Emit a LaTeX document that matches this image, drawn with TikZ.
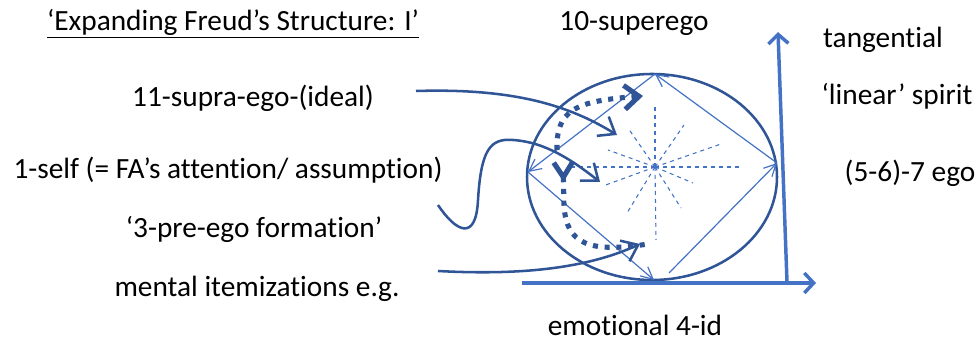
\documentclass[tikz,border=0pt]{standalone}
\usepackage{fontspec}
\setmainfont{Carlito}[Ligatures=NoCommon]
\usetikzlibrary{arrows.meta}
\definecolor{darkblue}{HTML}{2F5597}
\definecolor{midblue}{HTML}{4472C4}

\begin{document}
\begin{tikzpicture}[x=0.75pt,y=-0.75pt,font=\fontsize{22}{26}\selectfont,lbl/.style={inner sep=0pt},curve/.style={draw=darkblue,line width=1.9pt,-{Straight Barb[length=11pt,width=17pt,line width=1.9pt]}},edge/.style={draw=midblue,line width=0.9pt,-{Straight Barb[length=9pt,width=9pt,line width=0.9pt]}},ray/.style={draw=midblue,line width=0.8pt,dash pattern=on 3pt off 3pt},axis/.style={draw=midblue,line width=2.6pt,-{Straight Barb[length=7pt,width=15pt,line width=2.6pt]}},dots/.style={draw=darkblue,line width=3.8pt,dash pattern=on 3.8pt off 5pt}]
\useasboundingbox (0,0) rectangle (978,341);
% labels
\node[lbl] (title) at (233,24) {\underline{‘Expanding Freud’s Structure: I’}};
\node[lbl] (super) at (634,24) {10-superego};
\node[lbl] (supra) at (253,98) {11-supra-ego-(ideal)};
\node[lbl] (self) at (228,170) {1-self (= FA’s attention/ assumption)};
\node[lbl] (preego) at (254,229) {‘3-pre-ego formation’};
\node[lbl] (mental) at (257,289) {mental itemizations e.g.};
\node[lbl] (tang) at (883,40) {tangential};
\node[lbl] (linear) at (897,96) {‘linear’ spirit};
\node[lbl] (ego) at (910,173) {(5-6)-7 ego};
\node[lbl] (id) at (635,325) {emotional 4-id};
% circle, diamond and rays
\draw[darkblue,line width=1.9pt] (652,177) ellipse [x radius=125,y radius=103];
\coordinate (top) at (655,74);\coordinate (right) at (777,163);\coordinate (bottom) at (654,280);\coordinate (left) at (528,172);\coordinate (bstart) at (669,273);
\draw[edge] (right) -- (top);\draw[edge] (top) -- (left);\draw[edge] (left) -- (bottom);\draw[edge] (bstart) -- (right);
\coordinate (hub) at (655,167);
\foreach \p in {(655,107),(684,125),(721,144),(740,167),(693,183),(681,208),(656,240),(627,213),(603,186),(570,167),(608,150),(628,128)}
  \draw[ray] (hub) -- \p;
% axes
\coordinate (origin) at (787,282);\coordinate (yend) at (778,32);\coordinate (xstart) at (522,283);\coordinate (xend) at (816,283);
\draw[axis] (origin) -- (yend);
\draw[axis] (xstart) -- (xend);
% incoming curves
\coordinate (c1s) at (416,91);\coordinate (c1e) at (617,135);
\coordinate (c2s) at (438,205);\coordinate (c2e) at (600,182);
\coordinate (c3s) at (438,271);\coordinate (c3e) at (640,244);
\draw[curve] (c1s) .. controls (515,88) and (570,106) .. (c1e);
\draw[curve] (c2s) .. controls (456,232) and (476,242) .. (478,200) .. controls (481,150) and (490,138) .. (513,140) .. controls (545,142) and (572,160) .. (c2e);
\draw[curve] (c3s) .. controls (530,276) and (592,266) .. (c3e);
% dotted arrows
\coordinate (d1s) at (563,160);\coordinate (d1e) at (648,244);
\coordinate (d2s) at (557,150);\coordinate (d2e) at (643,96);
\draw[dots,{Straight Barb[reversed,length=11pt,width=14pt,line width=3.8pt]}-] (d1s) -- (564,205) .. controls (566,245) and (590,253) .. (d1e);
\draw[dots,-{Straight Barb[length=11pt,width=18pt,line width=3.8pt]}] (d2s) .. controls (556,110) and (575,101) .. (d2e);
\end{tikzpicture}
\end{document}
